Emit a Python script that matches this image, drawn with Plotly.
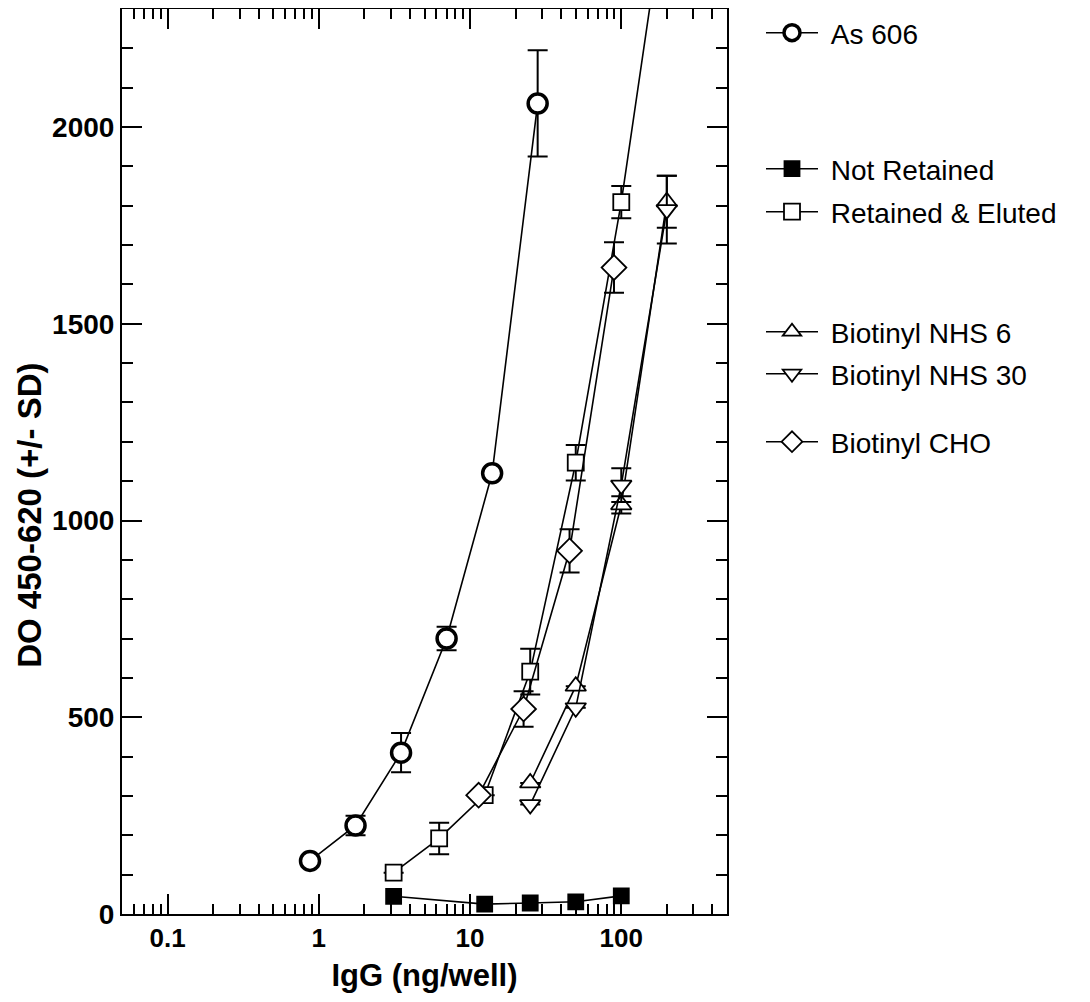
import numpy as np
import plotly.graph_objects as go

# --- data ---
as606_x = [0.875, 1.75, 3.5, 7, 14, 28]
as606_y = [135, 225, 410, 700, 1120, 2060]
as606_err = [None, 25, 50, 30, None, 135]

notret_x = [3.125, 12.5, 25, 50, 100]
notret_y = [45, 25, 28, 31, 46]

ret_x = [3.125, 6.25, 12.5, 25, 50, 100, 200]
ret_y = [105, 192, 302, 616, 1147, 1809, 2600]
ret_err = [None, 40, None, 58, 45, 41, None]

nhs_x = [25, 50, 100, 200]
nhs6_y = [333, 579, 1040, 1810]
nhs6_err = [None, None, 22, 66]
nhs30_y = [278, 524, 1090, 1790]
nhs30_err = [None, None, 43, 86]

cho_x = [11.4, 22.6, 45.5, 89.5]
cho_y = [302, 521, 923, 1643]
cho_err = [None, 45, 55, 64]

FONT = "Arial, Liberation Sans, sans-serif"
W, H = 1082, 994  # page adds an 8px body margin


def err(a):
    return dict(type="data", array=[np.nan if v is None else v for v in a],
                color="black", thickness=2, width=10, visible=True)


def series(x, y, name, symbol, legend, e=None, size=16, lw=1.8, fill="white"):
    return go.Scatter(
        x=x, y=y, name=name, mode="lines+markers", legend=legend,
        line=dict(color="black", width=1.6),
        marker=dict(symbol=symbol, size=size, color=fill,
                    line=dict(color="black", width=lw)),
        error_y=err(e) if e else None,
    )


fig = go.Figure()
fig.add_trace(series(as606_x, as606_y, "\u00a0As 606", "circle", "legend", as606_err, size=19, lw=3.5))
fig.add_trace(series(notret_x, notret_y, "\u00a0Not Retained", "square", "legend2", size=15, fill="black"))
fig.add_trace(series(ret_x, ret_y, "\u00a0Retained & Eluted", "square", "legend3", ret_err, size=16))
fig.add_trace(series(nhs_x, nhs6_y, "\u00a0Biotinyl NHS 6", "triangle-up", "legend4", nhs6_err, size=18))
fig.add_trace(series(nhs_x, nhs30_y, "\u00a0Biotinyl NHS 30", "triangle-down", "legend5", nhs30_err, size=18))
fig.add_trace(series(cho_x, cho_y, "\u00a0Biotinyl CHO", "diamond", "legend6", cho_err, size=19))

# legend rows, figure pixels from top
leg_rows = {"legend": 25, "legend2": 161, "legend3": 204,
            "legend4": 324, "legend5": 366, "legend6": 434}
for key, py in leg_rows.items():
    fig.update_layout({key: dict(
        xref="container", yref="container", x=753 / W, y=1 - py / H,
        xanchor="left", yanchor="middle", bgcolor="rgba(0,0,0,0)",
        itemwidth=52, font=dict(family=FONT, size=28, color="black"),
    )})

minor_x = [m * 10.0 ** d for d in range(-2, 3) for m in range(2, 10)]

fig.update_xaxes(
    type="log", range=[np.log10(0.05), np.log10(500)],
    tickvals=[0.1, 1, 10, 100], ticktext=["0.1", "1", "10", "100"],
    ticks="inside", ticklen=20, tickwidth=2, tickcolor="black",
    minor=dict(tickvals=minor_x, ticks="inside", ticklen=10, tickwidth=2, tickcolor="black"),
    showline=True, linecolor="black", linewidth=2, mirror="allticks",
    showgrid=False, zeroline=False,
    tickfont=dict(family=FONT, size=26, color="black", weight="bold"),
    title=dict(text="<b>IgG (ng/well)</b>", font=dict(family=FONT, size=31, color="black"), standoff=12),
)
fig.update_yaxes(
    range=[0, 2300], tickvals=[0, 500, 1000, 1500, 2000],
    ticks="inside", ticklen=20, tickwidth=2, tickcolor="black",
    minor=dict(dtick=100, ticks="inside", ticklen=11, tickwidth=2, tickcolor="black"),
    showline=True, linecolor="black", linewidth=2, mirror="allticks",
    showgrid=False, zeroline=False,
    tickfont=dict(family=FONT, size=28, color="black", weight="bold"),
)
fig.add_annotation(
    text="<b>DO 450-620 (+/- SD)</b>", textangle=-90,
    xref="paper", yref="paper", x=-0.152, y=0.44,
    xanchor="center", yanchor="middle", showarrow=False,
    font=dict(family=FONT, size=33, color="black"),
)
fig.update_layout(
    width=W, height=H, showlegend=True,
    margin=dict(l=114, r=363, t=1, b=88, autoexpand=False),
    plot_bgcolor="white", paper_bgcolor="white",
    font=dict(family=FONT, color="black"),
)

fig.write_html("out.html")
